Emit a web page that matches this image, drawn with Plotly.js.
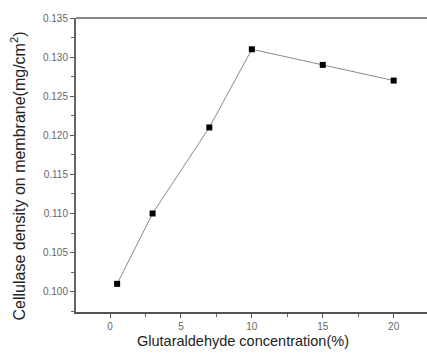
<!DOCTYPE html>
<html>
<head>
<meta charset="utf-8">
<script src="https://cdn.plot.ly/plotly-3.0.1.min.js"></script>
<style>html,body{margin:0;padding:0;background:#fff;}#chart{width:427px;height:353px;}</style>
</head>
<body>
<div id="chart"></div>
<script>
var concentration = [0.5, 3, 7, 10, 15, 20];
var density = [0.101, 0.110, 0.121, 0.131, 0.129, 0.127];
var xTitle = 'Glutaraldehyde concentration(%)';
var yTitle = 'Cellulase density on membrane(mg/cm<sup>2</sup>)';

var trace = {
  x: concentration, y: density, type: 'scatter', mode: 'lines+markers',
  line: {color: '#8a8a8a', width: 1},
  marker: {symbol: 'square', size: 6, color: '#000'},
  hoverinfo: 'none'
};
var layout = {
  width: 427, height: 353,
  margin: {l: 76, r: 0, t: 18, b: 41},
  paper_bgcolor: '#fff', plot_bgcolor: '#fff',
  showlegend: false,
  font: {family: 'Liberation Sans, Arial, sans-serif', color: '#555'},
  xaxis: {
    range: [-2.4, 22.35], dtick: 5, tick0: 0,
    showgrid: false, zeroline: false,
    showline: true, linecolor: '#555', linewidth: 2,
    ticks: 'outside', ticklen: 4, tickwidth: 1, tickcolor: '#555',
    tickfont: {size: 10, color: '#666'},
    minor: {ticks: 'outside', dtick: 2.5, ticklen: 3, tickcolor: '#666', showgrid: false}
  },
  yaxis: {
    range: [0.0974, 0.135], dtick: 0.005, tick0: 0.1,
    tickformat: '.3f',
    showgrid: false, zeroline: false,
    showline: true, linecolor: '#666', linewidth: 2,
    ticks: 'outside', ticklen: 4, tickwidth: 1, tickcolor: '#555',
    tickfont: {size: 10, color: '#666'},
    minor: {ticks: 'outside', dtick: 0.0025, ticklen: 3, tickcolor: '#666', showgrid: false}
  },
  shapes: [
    {type: 'line', xref: 'paper', yref: 'paper', x0: 0, x1: 1, y0: 1, y1: 1,
     line: {color: '#888', width: 2}}
  ],
  annotations: [
    {text: xTitle, xref: 'paper', yref: 'paper', x: (242.5 - 76) / 351, y: -0.1,
     yanchor: 'middle', xanchor: 'center', showarrow: false,
     font: {size: 14.5, color: '#222'}, yshift: 0},
    {text: yTitle, xref: 'paper', yref: 'paper', x: -0.2, y: 0.5,
     textangle: -90, xanchor: 'center', yanchor: 'middle', showarrow: false,
     font: {size: 16, color: '#222'}}
  ]
};
// position titles in pixels
var plotW = 427 - 76, plotH = 353 - 18 - 41;
layout.annotations[0].y = -(341 - 312) / plotH;
layout.annotations[1].x = -(76 - 18) / plotW;
layout.annotations[1].y = (312 - 176.5) / plotH;
Plotly.newPlot('chart', [trace], layout, {displayModeBar: false, staticPlot: true});
</script>
</body>
</html>
